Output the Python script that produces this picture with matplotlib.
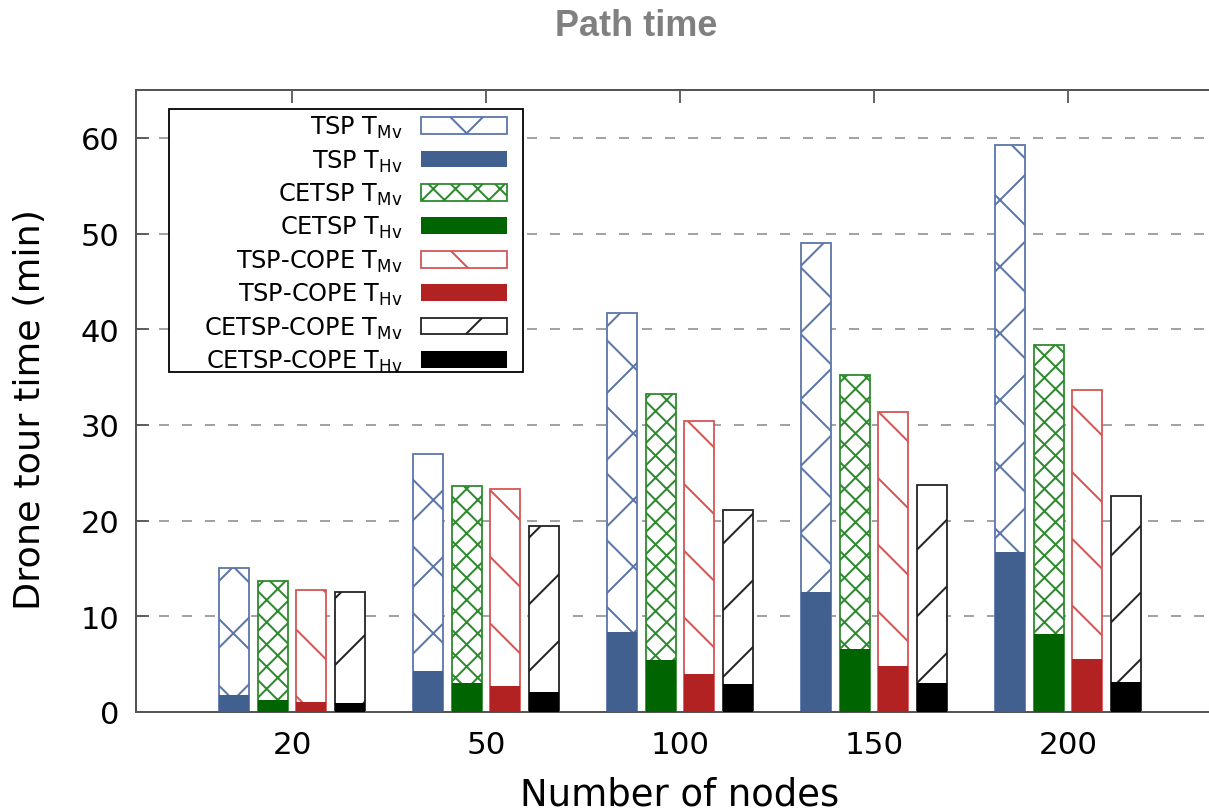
import numpy as np
import matplotlib
matplotlib.use('Agg')
import matplotlib.pyplot as plt
from matplotlib.patches import Rectangle

# Datos (minutos)
nodes = ['20', '50', '100', '150', '200']
tsp_mv = [15.1, 27.0, 41.7, 49.0, 59.3]
tsp_hv = [1.8, 4.3, 8.4, 12.5, 16.7]
cetsp_mv = [13.7, 23.6, 33.2, 35.2, 38.3]
cetsp_hv = [1.25, 3.0, 5.4, 6.6, 8.2]
tspcope_mv = [12.8, 23.3, 30.4, 31.3, 33.7]
tspcope_hv = [1.05, 2.7, 4.0, 4.8, 5.5]
cetspcope_mv = [12.5, 19.4, 21.1, 23.7, 22.6]
cetspcope_hv = [0.9, 2.05, 2.9, 3.0, 3.15]

methods = ['TSP', 'CETSP', 'TSP-COPE', 'CETSP-COPE']
mv_series = [tsp_mv, cetsp_mv, tspcope_mv, cetspcope_mv]
hv_series = [tsp_hv, cetsp_hv, tspcope_hv, cetspcope_hv]

solid_colors = ['#41608f', '#006400', '#b22222', '#000000']
hatch_colors = ['#5b76a8', '#2e8a2e', '#d45555', '#222222']
hatches = ['x', 'xxx', '\\', '/']

# la densidad del rayado depende del dpi
DPI = 200
W, H = 1209, 812


def px(v):
    """Convierte pixeles de la imagen a puntos."""
    return v * 72.0 / DPI


plt.rcParams['lines.scale_dashes'] = False
plt.rcParams['hatch.linewidth'] = px(2.0)
plt.rcParams['font.family'] = 'DejaVu Sans'

fig = plt.figure(figsize=(W / DPI, H / DPI), dpi=DPI)
ax = fig.add_axes([135.5 / W, (H - 713) / H, (1240 - 135.5) / W, (713 - 91) / H])

x = np.arange(len(nodes))
step = 0.2
width = 0.155

handles = []
labels = []
for k, name in enumerate(methods):
    pos = x + (k - 1.5) * step
    b_mv = ax.bar(pos, mv_series[k], width=width, facecolor='white',
                  edgecolor=hatch_colors[k], hatch=hatches[k],
                  linewidth=px(1.8), zorder=2)
    b_hv = ax.bar(pos, hv_series[k], width=width, color=solid_colors[k],
                  linewidth=0, zorder=3)
    handles += [b_mv, b_hv]
    labels += [name + r' T$_{\mathregular{Mv}}$', name + r' T$_{\mathregular{Hv}}$']

ax.set_xlim((135.5 - 292) / 194, (1240 - 292) / 194)
ax.set_ylim(0, 65)
ax.set_yticks(np.arange(0, 61, 10))
ax.set_xticks(x)
ax.set_xticklabels(nodes)

ax.set_axisbelow(True)
ax.yaxis.grid(True, linestyle=(0, (px(10), px(13))), color='#999999', linewidth=px(1.8))

for sp in ax.spines.values():
    sp.set_color('#555555')
    sp.set_linewidth(px(2))

ax.tick_params(axis='y', direction='in', length=px(13), width=px(1.8), color='#555555',
               labelsize=px(30.5), pad=px(16), left=True, right=True)
ax.tick_params(axis='x', direction='in', length=px(13), width=px(1.8), color='#555555',
               labelsize=px(31), pad=px(18), bottom=False, top=True)

# Titulo y etiquetas
fig.text(636 / W, 1 - 36 / H, 'Path time', ha='center', va='baseline',
         fontsize=px(36), fontweight='bold', color='#808080', family='Liberation Sans')
fig.text(680 / W, 1 - 806 / H, 'Number of nodes', ha='center', va='baseline',
         fontsize=px(37))
fig.text(30 / W, 1 - 409 / H, 'Drone tour time (min)', ha='center', va='center',
         rotation=90, fontsize=px(36.5))

# Leyenda con marco propio
fig.add_artist(Rectangle((169 / W, 1 - 373 / H), (523 - 169) / W, (373 - 110) / H,
                         transform=fig.transFigure, facecolor='white',
                         edgecolor='black', linewidth=px(1.8), zorder=3))
fig.legend(handles, labels, loc='upper right',
           bbox_to_anchor=(507 / W, 1 - 115 / H), bbox_transform=fig.transFigure,
           frameon=False, markerfirst=False, fontsize=px(24),
           handlelength=86 / 24, handleheight=17 / 24, handletextpad=18 / 24,
           labelspacing=0.3, borderpad=0, borderaxespad=0)

fig.savefig('out.png', dpi=DPI)
